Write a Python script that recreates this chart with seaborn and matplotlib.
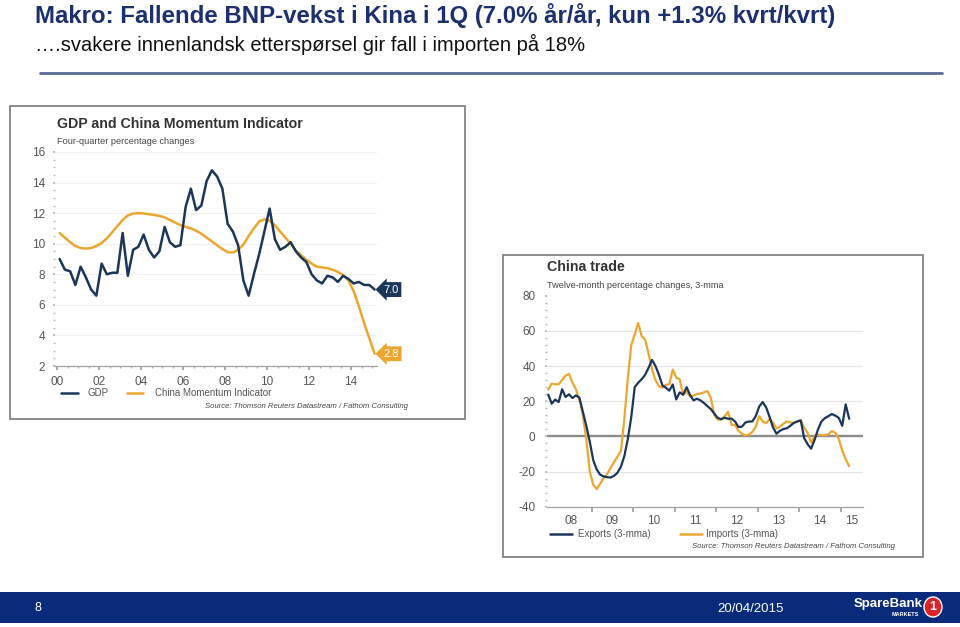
import numpy as np
import pandas as pd
import matplotlib
matplotlib.use("Agg")
import matplotlib.pyplot as plt
import seaborn as sns
from matplotlib.patches import Rectangle, Ellipse
from matplotlib.lines import Line2D
from matplotlib import font_manager

# ---------------- data ----------------
gdp_quarters = pd.period_range("2000Q1", "2015Q1", freq="Q")
gdp = [9.0, 8.3, 8.2, 7.3, 8.5, 7.8, 7.0, 6.6, 8.7, 8.0,
       8.1, 8.1, 10.7, 7.9, 9.6, 9.8, 10.6, 9.6, 9.1, 9.5,
       11.1, 10.1, 9.8, 9.9, 12.4, 13.6, 12.2, 12.5, 14.1, 14.8,
       14.4, 13.6, 11.3, 10.8, 9.9, 7.6, 6.6, 8.0, 9.3, 10.8,
       12.3, 10.3, 9.6, 9.8, 10.1, 9.5, 9.1, 8.8, 8.0, 7.6,
       7.4, 7.9, 7.8, 7.5, 7.9, 7.7, 7.4, 7.5, 7.3, 7.3, 7.0]
momentum = [10.7, 10.4, 10.1, 9.85, 9.72, 9.68, 9.72, 9.85, 10.05, 10.35,
            10.75, 11.15, 11.55, 11.85, 11.97, 12.0, 11.98, 11.93, 11.88, 11.82,
            11.72, 11.55, 11.38, 11.22, 11.1, 11.0, 10.85, 10.65, 10.4, 10.15,
            9.9, 9.65, 9.45, 9.42, 9.6, 9.95, 10.5, 11.0, 11.45, 11.6,
            11.5, 11.2, 10.8, 10.4, 10.0, 9.55, 9.25, 8.95, 8.7, 8.5,
            8.45, 8.4, 8.3, 8.15, 7.95, 7.6, 6.9, 5.9, 4.8, 3.8, 2.8]
gdp_yticks = [2, 4, 6, 8, 10, 12, 14, 16]
gdp_xticks = [2000, 2002, 2004, 2006, 2008, 2010, 2012, 2014]
gdp_xlabels = ["00", "02", "04", "06", "08", "10", "12", "14"]

trade_months = pd.period_range("2007-12", "2015-03", freq="M")
exports = [23.7, 18.6, 20.9, 19.5, 26.8, 22.4, 23.9, 21.8, 23.3, 22.0,
           14.0, 6.0, -3.0, -13.5, -18.8, -21.8, -22.8, -23.2, -23.4, -22.5,
           -20.7, -17.3, -11.2, -1.5, 11.0, 28.0, 30.5, 32.5, 35.0, 39.0,
           43.5, 40.0, 35.0, 29.0, 27.7, 26.0, 29.5, 21.0, 25.0, 23.7,
           28.0, 23.5, 20.5, 21.4, 20.5, 19.0, 17.2, 15.5, 13.0, 10.5,
           9.8, 10.6, 10.0, 10.1, 8.5, 5.3, 5.5, 7.9, 8.4, 8.5,
           11.5, 17.0, 19.5, 16.5, 11.0, 5.0, 1.5, 3.2, 4.2, 4.6,
           6.0, 7.7, 8.5, 9.1, -1.0, -4.5, -7.0, -2.0, 4.0, 8.5,
           10.4, 11.5, 12.7, 11.8, 10.5, 6.0, 18.2, 10.0]
imports = [26.6, 30.0, 29.6, 29.6, 32.0, 34.5, 35.5, 30.5, 26.8, 21.0,
           12.0, -1.5, -20.0, -27.5, -30.0, -27.0, -23.7, -21.5, -18.0, -14.7,
           -11.5, -8.3, 10.0, 33.0, 52.0, 58.0, 64.5, 57.0, 55.0, 47.0,
           38.0, 32.0, 28.5, 27.7, 29.3, 29.6, 38.0, 33.4, 32.5, 23.5,
           25.5, 22.6, 23.3, 24.0, 24.4, 25.0, 25.8, 22.0, 12.0, 9.5,
           9.5, 11.5, 14.0, 6.5, 6.5, 3.2, 1.4, 0.6, 1.1, 2.5,
           5.5, 11.5, 8.5, 7.5, 9.8, 7.8, 4.5, 5.5, 7.2, 8.5,
           8.0, 7.5, 8.3, 9.2, 5.0, 2.0, -3.5, 0.0, 1.0, 0.7,
           0.7, 1.2, 3.0, 2.0, -1.5, -8.0, -13.0, -17.0]
trade_yticks = [-40, -20, 0, 20, 40, 60, 80]
trade_year_labels = ["08", "09", "10", "11", "12", "13", "14", "15"]

title_text = "Makro: Fallende BNP-vekst i Kina i 1Q (7.0% år/år, kun +1.3% kvrt/kvrt)"
subtitle_text = "….svakere innenlandsk etterspørsel gir fall i importen på 18%"

# ---------------- style ----------------
sns.set_theme(style="white")
plt.rcParams["font.family"] = ["Liberation Sans", "DejaVu Sans"]
plt.rcParams["axes.unicode_minus"] = False

def has_font(name):
    try:
        font_manager.findfont(name, fallback_to_default=False)
        return True
    except Exception:
        return False

narrow = "Liberation Sans Narrow" if has_font("Liberation Sans Narrow") else "Liberation Sans"

NAVY = "#1b3658"
GOLD = "#eca630"
W, H = 960, 627
fig = plt.figure(figsize=(W / 100, H / 100), dpi=100)
fig.patch.set_facecolor("white")


def rect(x0, y0, x1, y1):
    return [x0 / W, 1 - y1 / H, (x1 - x0) / W, (y1 - y0) / H]


def ftext(x, y, s, **kw):
    return fig.text(x / W, 1 - y / H, s, **kw)


def fline(x0, x1, y, **kw):
    fig.add_artist(Line2D([x0 / W, x1 / W], [1 - y / H, 1 - y / H],
                          transform=fig.transFigure, **kw))

# ---------------- slide header ----------------
renderer = fig.canvas.get_renderer()
t1 = ftext(35, 16, title_text, family=[narrow, "DejaVu Sans"], weight="bold",
           color="#1c2f6e", fontsize=17, va="center", ha="left")
bb = t1.get_window_extent(renderer)
t1.set_fontsize(17 * 803 / bb.width)
t2 = ftext(35, 44, subtitle_text, family=[narrow, "DejaVu Sans"], color="#111111",
           fontsize=15, va="center", ha="left")
bb = t2.get_window_extent(renderer)
t2.set_fontsize(15 * 550 / bb.width)
fline(40, 942, 73, color="#5b6a97", lw=2)

# ---------------- footer ----------------
fig.add_artist(Rectangle((0, 1 - 623 / H), 1, 31 / H, transform=fig.transFigure,
                         fc="#0a2b7c", ec="none"))
ftext(38, 608, "8", color="white", fontsize=9, va="center", ha="center",
      family=[narrow, "DejaVu Sans"])
ftext(751, 609, "20/04/2015", color="white", fontsize=9.5, va="center", ha="center",
      family=[narrow, "DejaVu Sans"])
ftext(888, 604, "SpareBank", color="white", fontsize=9.5, weight="bold", va="center",
      ha="center", family=[narrow, "DejaVu Sans"])
ftext(905, 615, "MARKETS", color="white", fontsize=4, weight="bold", va="center", ha="center")
fig.add_artist(Ellipse((933 / W, 1 - 607 / H), 18 / W, 20 / H, transform=fig.transFigure,
                       fc="#d9242b", ec="white", lw=1))
ftext(933, 607, "1", color="white", fontsize=9, weight="bold", va="center", ha="center")

# ---------------- frames ----------------
fig.add_artist(Rectangle((10 / W, 1 - 419 / H), 455 / W, 313 / H, transform=fig.transFigure,
                         fill=False, ec="#7a7a7a", lw=1.2))
fig.add_artist(Rectangle((503 / W, 1 - 557 / H), 420 / W, 302 / H, transform=fig.transFigure,
                         fill=False, ec="#7a7a7a", lw=1.2))

# ---------------- left chart: GDP ----------------
ax1 = fig.add_axes(rect(55, 152, 377, 366))
qt = [p.year + (p.quarter - 0.5) / 4 for p in gdp_quarters]
df1 = pd.DataFrame({"t": qt * 2, "v": gdp + momentum,
                    "s": ["GDP"] * len(qt) + ["China Momentum Indicator"] * len(qt)})
sns.lineplot(data=df1, x="t", y="v", hue="s", hue_order=["China Momentum Indicator", "GDP"],
             palette={"GDP": NAVY, "China Momentum Indicator": GOLD}, linewidth=1.8,
             legend=False, ax=ax1)
ax1.set_xlim(2000 + (55 - 57) / 21, 2000 + (377 - 57) / 21)
ax1.set_ylim(2, 16)
for s in ["top", "right", "left"]:
    ax1.spines[s].set_visible(False)
ax1.spines["bottom"].set_color("#a0a0a0")
ax1.spines["bottom"].set_linewidth(0.9)
ax1.set_xticks(gdp_xticks)
ax1.set_xticklabels(gdp_xlabels)
ax1.set_xticks(np.arange(2000, 2015.3, 0.5), minor=True)
ax1.set_yticks(gdp_yticks)
ax1.set_yticks(np.arange(2, 16.01, 0.5), minor=True)
ax1.tick_params(axis="x", which="major", length=3, color="#a0a0a0", labelsize=8.5,
                labelcolor="#555555", pad=4, bottom=True)
ax1.tick_params(axis="x", which="minor", length=1.5, color="#b0b0b0", bottom=True)
ax1.tick_params(axis="y", which="both", length=1.2, color="#b8b8b8", left=True,
                labelsize=8.5, labelcolor="#555555", pad=6)
ax1.grid(axis="y", color="#efefef", lw=0.8)
ax1.set_xlabel("")
ax1.set_ylabel("")
ax1.annotate("7.0", xy=(qt[-1], gdp[-1]), xytext=(6.5, 0), textcoords="offset points",
             color="white", fontsize=8, va="center", ha="left",
             bbox=dict(boxstyle="larrow,pad=0.22", fc=NAVY, ec="none"))
ax1.annotate("2.8", xy=(qt[-1], momentum[-1]), xytext=(6.5, 0), textcoords="offset points",
             color="white", fontsize=8, va="center", ha="left",
             bbox=dict(boxstyle="larrow,pad=0.22", fc=GOLD, ec="none"))

ftext(57, 124, "GDP and China Momentum Indicator", weight="bold", fontsize=10.2,
      color="#333333", va="center", ha="left")
ftext(57, 142, "Four-quarter percentage changes", fontsize=6.6, color="#444444",
      va="center", ha="left")
fline(61, 78, 393, color=NAVY, lw=1.8)
ftext(88, 393, "GDP", fontsize=7, color="#555555", va="center", ha="left")
fline(127, 143, 393, color=GOLD, lw=1.8)
ftext(155, 393, "China Momentum Indicator", fontsize=7, color="#555555", va="center", ha="left")
ftext(408, 407, "Source: Thomson Reuters Datastream / Fathom Consulting", fontsize=5.6,
      style="italic", color="#444444", va="center", ha="right")

# ---------------- right chart: trade ----------------
ax2 = fig.add_axes(rect(547, 295.7, 863, 506.7))
mt = [p.year + (p.month - 0.5) / 12 for p in trade_months]
df2 = pd.DataFrame({"t": mt * 2, "v": exports + imports,
                    "s": ["Exports (3-mma)"] * len(mt) + ["Imports (3-mma)"] * len(mt)})
ax2.axhline(0, color="#8c8c8c", lw=1.7, zorder=1)
sns.lineplot(data=df2, x="t", y="v", hue="s", hue_order=["Imports (3-mma)", "Exports (3-mma)"],
             palette={"Exports (3-mma)": NAVY, "Imports (3-mma)": GOLD}, linewidth=1.6,
             legend=False, ax=ax2, zorder=3)
xl = 2008 + (547 - 550) / 41.5
xr = 2008 + (863 - 550) / 41.5
ax2.set_xlim(xl, xr)
ax2.set_ylim(-40, 80)
for s in ["top", "right", "left"]:
    ax2.spines[s].set_visible(False)
ax2.spines["bottom"].set_color("#a0a0a0")
ax2.spines["bottom"].set_linewidth(0.9)
years = np.arange(2009, 2016)
ax2.set_xticks(years)
ax2.set_xticklabels([""] * len(years))
label_pos = [y + 0.5 for y in range(2008, 2015)] + [(2015 + xr) / 2]
ax2.set_xticks(label_pos, minor=True)
ax2.set_xticklabels(trade_year_labels, minor=True)
ax2.tick_params(axis="x", which="major", length=3.5, color="#a0a0a0", bottom=True)
ax2.tick_params(axis="x", which="minor", length=0, labelsize=8.5, labelcolor="#555555", pad=6)
ax2.set_yticks(trade_yticks)
ax2.set_yticks(np.arange(-40, 80.1, 4), minor=True)
ax2.tick_params(axis="y", which="both", length=1.2, color="#b8b8b8", left=True,
                labelsize=8.5, labelcolor="#555555", pad=7)
for gv in [-20, 20, 40, 60]:
    ax2.axhline(gv, color="#e2e2e2", lw=0.8, zorder=0)
ax2.set_xlabel("")
ax2.set_ylabel("")

ftext(547, 267, "China trade", weight="bold", fontsize=10.2, color="#333333",
      va="center", ha="left")
ftext(547, 285, "Twelve-month percentage changes, 3-mma", fontsize=6.6, color="#444444",
      va="center", ha="left")
fline(550, 572, 534, color=NAVY, lw=1.8)
ftext(578, 534, "Exports (3-mma)", fontsize=7, color="#555555", va="center", ha="left")
fline(680, 702, 534, color=GOLD, lw=1.8)
ftext(706, 534, "Imports (3-mma)", fontsize=7, color="#555555", va="center", ha="left")
ftext(895, 547, "Source: Thomson Reuters Datastream / Fathom Consulting", fontsize=5.6,
      style="italic", color="#444444", va="center", ha="right")

fig.savefig("out.png", dpi=100, facecolor="white")
